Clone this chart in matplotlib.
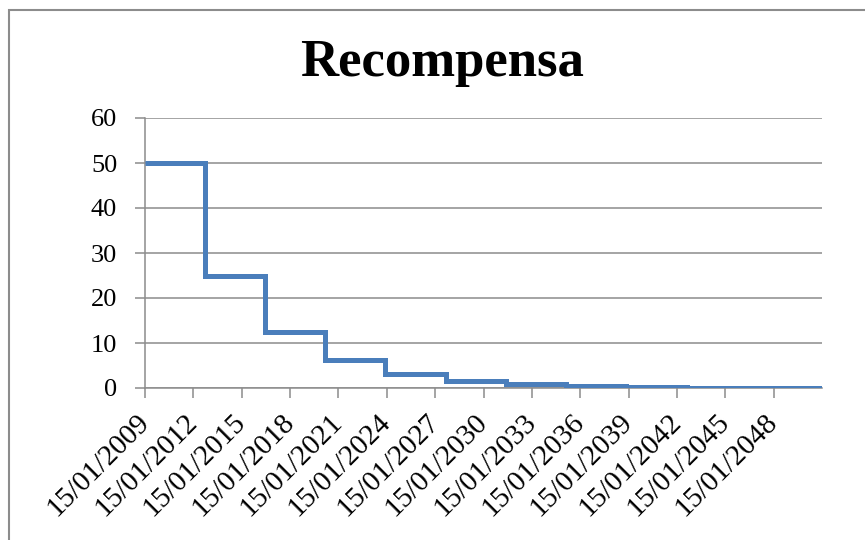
import matplotlib
matplotlib.use("Agg")
import matplotlib.pyplot as plt
from matplotlib.patches import Rectangle
import datetime as dt

# Data: halving dates and reward values (step after each date)
change_dates = ["2009-01-15", "2012-10-01", "2016-06-20", "2020-03-15", "2023-12-15",
                "2027-09-10", "2031-06-05", "2035-03-01", "2038-11-25", "2042-08-20",
                "2046-05-15", "2050-02-10", "2051-01-15"]
rewards = [50, 25, 12.5, 6.25, 3.125, 1.5625, 0.78125, 0.390625, 0.1953125,
           0.09765625, 0.048828125, 0.0244140625, 0.0244140625]
tick_years = [2009, 2012, 2015, 2018, 2021, 2024, 2027, 2030, 2033, 2036, 2039, 2042, 2045, 2048]
y_ticks = [0, 10, 20, 30, 40, 50, 60]
title = "Recompensa"

dates = [dt.datetime.strptime(d, "%Y-%m-%d") for d in change_dates]

plt.rcParams['font.family'] = ['Liberation Serif', 'DejaVu Serif']

fig = plt.figure(figsize=(8.65, 5.4), dpi=100)
W, H = 865, 540
ax = fig.add_axes([145 / W, 1 - 388 / H, (822 - 145) / W, (388 - 118) / H])

ax.step(dates, rewards, where='post', color='#4A7EBB', lw=3.6, solid_capstyle='butt',
        solid_joinstyle='miter', zorder=3)

ax.set_xlim(dt.datetime(2009, 1, 15), dt.datetime(2051, 1, 15))
ax.set_ylim(0, 60)
ax.set_yticks(y_ticks)
ax.set_yticklabels([str(v) for v in y_ticks], fontsize=19)
xt = [dt.datetime(y, 1, 15) for y in tick_years]
ax.set_xticks(xt)
ax.set_xticklabels([d.strftime("%d/%m/%Y") for d in xt], rotation=45, ha='right',
                   va='center', rotation_mode='anchor', fontsize=21)

ax.grid(axis='y', color='#8C8C8C', lw=1.1)
ax.set_axisbelow(True)
for s in ['top', 'right']:
    ax.spines[s].set_visible(False)
ax.spines['left'].set_color('#8C8C8C')
ax.spines['bottom'].set_color('#8C8C8C')
ax.spines['left'].set_linewidth(1.1)
ax.spines['bottom'].set_linewidth(1.1)
ax.tick_params(axis='both', color='#8C8C8C', length=7, width=1.1)
ax.tick_params(axis='y', pad=13)
ax.tick_params(axis='x', pad=15)

fig.text(442 / W, 1 - 76 / H, title, ha='center', va='baseline', fontsize=38,
         fontweight='bold')

fig.patches.append(Rectangle((9 / W, -0.1), 1.2, 1 - 10 / H + 0.1, transform=fig.transFigure,
                             fill=False, edgecolor='#8C8C8C', lw=1.5))

fig.savefig("out.png", dpi=100)
